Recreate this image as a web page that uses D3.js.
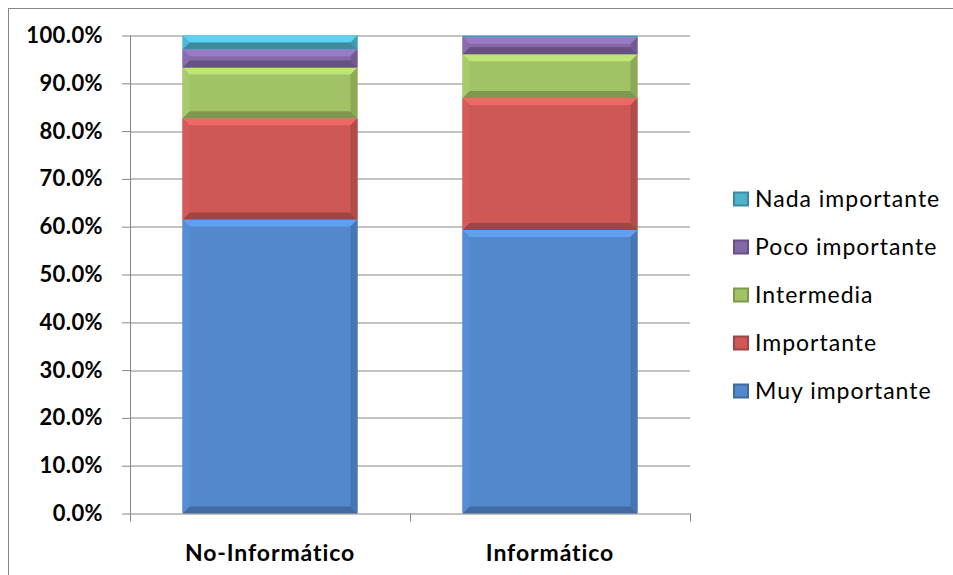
<!DOCTYPE html>
<html>
<head>
<meta charset="utf-8">
<script src="https://cdn.jsdelivr.net/npm/d3@7"></script>
<style>
  body { margin: 0; background: #fff; }
  text { font-family: Lato, "Open Sans", sans-serif; }
</style>
</head>
<body>
<div id="chart"></div>
<script>
// data (percent of each group)
const categories = ["No-Informático", "Informático"]
const seriesNames = ["Muy importante", "Importante", "Intermedia", "Poco importante", "Nada importante"]
const muyImportante = [61.5, 59.3]
const importante = [21.2, 27.6]
const intermedia = [10.6, 9.2]
const pocoImportante = [3.8, 3.6]
const nadaImportante = [2.9, 0.3]
const yTicks = [0, 10, 20, 30, 40, 50, 60, 70, 80, 90, 100]

const colors = ["#5388CD", "#CD5856", "#A2C365", "#8468A8", "#4FB2CC"]

const W = 953, H = 575
const margin = { top: 35.5, left: 130, right: 263, bottom: 61.5 }
const width = W - margin.left - margin.right,
    height = H - margin.top - margin.bottom

const svg = d3.select("#chart").append("svg")
    .attr("width", W)
    .attr("height", H)

// outer chart border
svg.append("rect")
    .attr("x", 8.5).attr("y", 8.5)
    .attr("width", W).attr("height", H)
    .attr("fill", "none")
    .attr("stroke", "#868686")

const g = svg.append("g")
    .attr("transform", `translate(${margin.left},${margin.top})`)

// build stacked rows
const series = [muyImportante, importante, intermedia, pocoImportante, nadaImportante]
const rows = categories.map((c, i) => {
    const r = { cat: c }
    seriesNames.forEach((s, j) => r[s] = series[j][i])
    return r
})
const stacked = d3.stack().keys(seriesNames)(rows)

const x = d3.scaleBand()
    .domain(categories)
    .range([0, width])
    .paddingInner(0.375)
    .paddingOuter(0.1875)

const y = d3.scaleLinear()
    .domain([0, 100])
    .range([height, 0])

// gridlines
g.append("g")
    .selectAll("line")
    .data(yTicks.slice(1))
    .join("line")
    .attr("x1", 0).attr("x2", width)
    .attr("y1", d => Math.round(y(d)) + 0.5)
    .attr("y2", d => Math.round(y(d)) + 0.5)
    .attr("stroke", "#868686")

// bars with a simple bevel look
const bev = 7
stacked.forEach((s, j) => {
    const col = d3.color(colors[j])
    const light = col.brighter(0.45).formatHex()
    const dark = col.darker(0.7).formatHex()
    const mid = col.darker(0.4).formatHex()
    s.forEach((d, i) => {
        const x0 = x(categories[i]), x1 = x0 + x.bandwidth()
        const y0 = y(d[1]), y1 = y(d[0])
        const h = y1 - y0
        if (h <= 0) return
        const b = Math.min(bev, h / 2)
        const cell = g.append("g")
        cell.append("rect")
            .attr("x", x0).attr("y", y0)
            .attr("width", x1 - x0).attr("height", h)
            .attr("fill", colors[j])
        // top
        cell.append("polygon")
            .attr("points", [[x0, y0], [x1, y0], [x1 - b, y0 + b], [x0 + b, y0 + b]].join(" "))
            .attr("fill", light)
        // bottom
        cell.append("polygon")
            .attr("points", [[x0, y1], [x1, y1], [x1 - b, y1 - b], [x0 + b, y1 - b]].join(" "))
            .attr("fill", dark)
        // left
        cell.append("polygon")
            .attr("points", [[x0, y0], [x0 + b, y0 + b], [x0 + b, y1 - b], [x0, y1]].join(" "))
            .attr("fill", col.brighter(0.1).formatHex())
        // right
        cell.append("polygon")
            .attr("points", [[x1, y0], [x1 - b, y0 + b], [x1 - b, y1 - b], [x1, y1]].join(" "))
            .attr("fill", mid)
    })
})

// y axis
const yAxis = g.append("g")
    .call(d3.axisLeft(y).tickValues(yTicks).tickSize(8).tickPadding(19)
        .tickFormat(d => d.toFixed(1) + "%"))
yAxis.selectAll("line").attr("stroke", "#868686")
yAxis.select(".domain").attr("stroke", "#868686").attr("d", `M0.5,0V${height}`)
yAxis.selectAll("text")
    .attr("font-size", 22).attr("font-weight", "bold")
    .attr("letter-spacing", 0.4)
    .attr("fill", "#000")
    .style("font-family", "Lato, sans-serif")

// x axis (ticks at category boundaries)
const xa = g.append("g").attr("transform", `translate(0,${height})`)
xa.append("line")
    .attr("x1", 0).attr("x2", width)
    .attr("y1", 0.5).attr("y2", 0.5)
    .attr("stroke", "#868686")
xa.selectAll(".tk")
    .data([0, 1, 2])
    .join("line")
    .attr("x1", d => Math.round(d * x.step()) + 0.5)
    .attr("x2", d => Math.round(d * x.step()) + 0.5)
    .attr("y1", 0).attr("y2", 8)
    .attr("stroke", "#868686")
xa.selectAll(".lbl")
    .data(categories)
    .join("text")
    .attr("x", d => x(d) + x.bandwidth() / 2)
    .attr("y", 47)
    .attr("text-anchor", "middle")
    .attr("font-size", 23).attr("font-weight", "bold")
    .attr("letter-spacing", 0.9)
    .text(d => d)

// legend, top entry is the last series
const legend = svg.append("g").attr("transform", "translate(733,199)")
const legItems = seriesNames.slice().reverse()
legItems.forEach((name, k) => {
    const j = seriesNames.indexOf(name)
    const it = legend.append("g").attr("transform", `translate(0,${k * 48})`)
    const col = d3.color(colors[j])
    it.append("rect")
        .attr("x", 1).attr("y", -6.5)
        .attr("width", 14).attr("height", 13)
        .attr("fill", colors[j])
        .attr("stroke", col.darker(0.7).formatHex())
        .attr("stroke-width", 2)
    it.append("text")
        .attr("x", 22).attr("y", 0)
        .attr("dy", "0.35em")
        .attr("font-size", 23)
        .attr("letter-spacing", 1)
        .text(name)
})
</script>
</body>
</html>
